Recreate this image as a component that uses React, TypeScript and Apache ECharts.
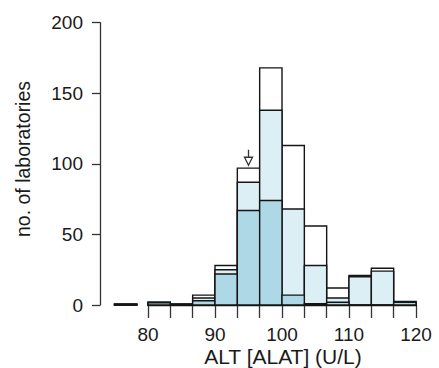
import React, { useEffect, useRef } from "react";
import * as echarts from "echarts";

// Histogram bins (ALT U/L), width 10/3
const binWidth = 10 / 3;
const binLeft = [75, 80, 83.3333, 86.6667, 90, 93.3333, 96.6667, 100, 103.3333, 106.6667, 110, 113.3333, 116.6667];
// counts: all laboratories (white), subset (light blue), inner subset (blue)
const countAll = [0.6, 2, 0.6, 7, 28, 97, 168, 113, 56, 12, 21, 26, 2.5];
const countSubset = [0.6, 2, 0.6, 5, 25, 87, 138, 68, 28, 5, 20, 24, 2.2];
const countInner = [0.6, 1.5, 0.6, 3, 22, 67, 74, 7, 1, 2, 0, 0, 2];
// arrow marker: [x, top, bottom]
const arrowMark = [[95, 110, 99]];

const yTicks = { min: 0, max: 200, interval: 50 };
const xRange = { min: 80, max: 120 };

const FONT = "'Liberation Sans', Arial, sans-serif";

function histSeries(name: string, counts: number[], fill: string) {
  return {
    type: "custom",
    name,
    clip: false,
    encode: { x: [0, 1], y: 2 },
    data: binLeft.map((l, i) => [l, l + binWidth, counts[i]]),
    renderItem: (params: any, api: any) => {
      const lo = api.value(0);
      const hi = api.value(1);
      const v = api.value(2);
      const p0 = api.coord([lo, 0]);
      const p1 = api.coord([hi, v]);
      return {
        type: "rect",
        shape: { x: p0[0], y: p1[1], width: p1[0] - p0[0], height: p0[1] - p1[1] },
        style: { fill, stroke: "#151515", lineWidth: 1.4 },
      };
    },
    z: 2,
  };
}

export default function App() {
  const ref = useRef<HTMLDivElement>(null);
  useEffect(() => {
    if (!ref.current) return;
    const chart = echarts.init(ref.current, undefined, { renderer: "svg" });
    chart.setOption({
      animation: false,
      backgroundColor: "#ffffff",
      grid: { left: 148, right: 23, top: 22.7, bottom: 63 },
      xAxis: {
        type: "value",
        min: xRange.min,
        max: xRange.max,
        interval: binWidth,
        axisLine: { show: true, lineStyle: { color: "#151515", width: 1.4 } },
        axisTick: { show: true, inside: false, length: 13, lineStyle: { color: "#333", width: 1.3 } },
        splitLine: { show: false },
        axisLabel: {
          margin: 20,
          fontSize: 19,
          color: "#1a1a1a",
          fontFamily: FONT,
          formatter: (v: number) => {
            const r = Math.round(v);
            return Math.abs(v - r) < 0.01 && r % 10 === 0 ? String(r) : "";
          },
        },
      },
      yAxis: {
        type: "value",
        min: yTicks.min,
        max: yTicks.max,
        interval: yTicks.interval,
        offset: 48,
        axisLine: { show: true, lineStyle: { color: "#333", width: 1.3 } },
        axisTick: { show: true, length: 8, lineStyle: { color: "#333", width: 1.3 } },
        splitLine: { show: false },
        axisLabel: { margin: 17, fontSize: 19, color: "#1a1a1a", fontFamily: FONT },
      },
      graphic: [
        {
          type: "text",
          x: 23,
          y: 159,
          rotation: Math.PI / 2,
          style: {
            text: "no. of laboratories",
            fontSize: 19.5,
            fontFamily: FONT,
            fill: "#1a1a1a",
            align: "center",
            verticalAlign: "middle",
          },
        },
        {
          type: "text",
          x: 283,
          y: 356,
          style: {
            text: "ALT [ALAT] (U/L)",
            fontSize: 21,
            fontFamily: FONT,
            fill: "#1a1a1a",
            align: "center",
            verticalAlign: "middle",
          },
        },
      ],
      series: [
        histSeries("all", countAll, "#ffffff"),
        histSeries("subset", countSubset, "#dcefF5"),
        histSeries("inner", countInner, "#aed8e6"),
        {
          type: "custom",
          name: "arrow",
          clip: false,
          encode: { x: 0, y: [1, 2] },
          data: arrowMark,
          renderItem: (params: any, api: any) => {
            const top = api.coord([api.value(0), api.value(1)]);
            const bot = api.coord([api.value(0), api.value(2)]);
            const x = top[0];
            const headH = 8;
            return {
              type: "group",
              children: [
                {
                  type: "line",
                  shape: { x1: x, y1: top[1], x2: x, y2: bot[1] - headH },
                  style: { stroke: "#333", lineWidth: 1.3 },
                },
                {
                  type: "polygon",
                  shape: {
                    points: [
                      [x - 4, bot[1] - headH],
                      [x + 4, bot[1] - headH],
                      [x, bot[1]],
                    ],
                  },
                  style: { fill: "#fff", stroke: "#333", lineWidth: 1.3 },
                },
              ],
            };
          },
          z: 3,
        },
      ],
    });
    return () => chart.dispose();
  }, []);
  return (
    <div
      ref={ref}
      style={{ position: "fixed", left: 0, top: 0, width: 439, height: 368, background: "#fff" }}
    />
  );
}
